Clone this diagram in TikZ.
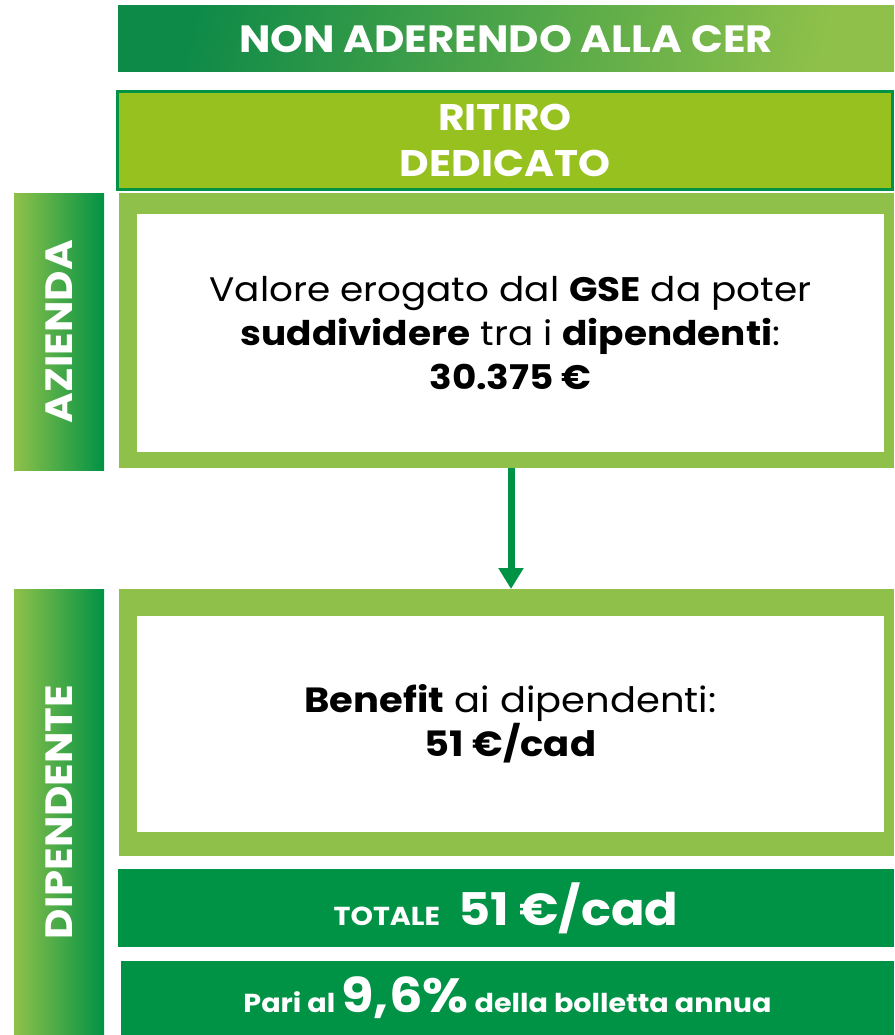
\documentclass[tikz,border=0pt]{standalone}
\usepackage{fontspec}
\setmainfont{Poppins}[FakeStretch=1.1]
\usetikzlibrary{positioning,calc,arrows.meta}
\definecolor{cergreen}{RGB}{0,146,69}
\definecolor{cerlight}{RGB}{143,193,74}
\definecolor{ceryellow}{RGB}{151,193,31}
\newcommand{\fs}[2]{\fontsize{#1}{#2}\selectfont}

\begin{document}
\begin{tikzpicture}[x=1pt,y=-1pt,
    box/.style={rectangle,inner sep=0pt,outer sep=0pt,anchor=north west},
    frame/.style={box,fill=cerlight},
    inner/.style={box,fill=white,align=center,text=black},
    side/.style={box,left color=cerlight,right color=cergreen},
    sidetext/.style={rotate=90,text=white,font=\fs{38}{44}\bfseries},
    bar/.style={box,fill=cergreen,text=white,font=\bfseries},
    arr/.style={draw=cergreen,line width=7pt,-{Triangle[width=24pt,length=21pt]}}]
    \useasboundingbox (0,0) rectangle (894,1035);
    % header
    \node[box,left color=cergreen!90!black!95,right color=cerlight,shading angle=75,minimum width=776pt,minimum height=66pt,
          text=white,font=\fs{38}{44}\bfseries] (hdr) at (118,6) {NON ADERENDO ALLA CER};
    \node[box,fill=ceryellow,draw=cergreen,line width=3pt,minimum width=775pt,minimum height=98pt,
          align=center,text=white,font=\fs{37}{46}\bfseries] (rd) at (117.5,91.5) {RITIRO\\DEDICATO};
    % azienda
    \node[side,minimum width=90pt,minimum height=277pt] (az) at (14,193) {};
    \node[sidetext] (azlbl) at (az.center) {AZIENDA};
    \node[frame,minimum width=775pt,minimum height=275pt] (azframe) at (119,193) {};
    \node[inner,minimum width=747pt,minimum height=238pt,font=\fs{34}{44}] (azbox) at (137,214)
        {Valore erogato dal \textbf{GSE} da poter\\
         \textbf{suddividere} tra i \textbf{dipendenti}:\\
         \textbf{30.375 €}};
    % dipendente
    \node[side,minimum width=90pt,minimum height=446pt] (dip) at (14,589) {};
    \node[sidetext] (diplbl) at (dip.center) {DIPENDENTE};
    \node[frame,minimum width=775pt,minimum height=267pt] (dipframe) at (119,589) {};
    \node[inner,minimum width=747pt,minimum height=216pt,font=\fs{35}{44}] (dipbox) at (137,616)
        {\textbf{Benefit} ai dipendenti:\\\textbf{51 €/cad}};
    \coordinate (ax) at (511,0);
    \draw[arr] (azframe.south -| ax) -- (dipframe.north -| ax);
    % totali
    \node[bar,minimum width=776pt,minimum height=78pt] (tot) at (118,869)
        {{\fs{26}{30}TOTALE}\hspace{18pt}{\fs{45}{50}51 €/cad}};
    \node[bar,minimum width=773pt,minimum height=74pt] (pari) at (121,961)
        {{\fs{26}{30}Pari al }{\fs{48}{54}9,6\%}{\fs{26}{30} della bolletta annua}};
\end{tikzpicture}
\end{document}
